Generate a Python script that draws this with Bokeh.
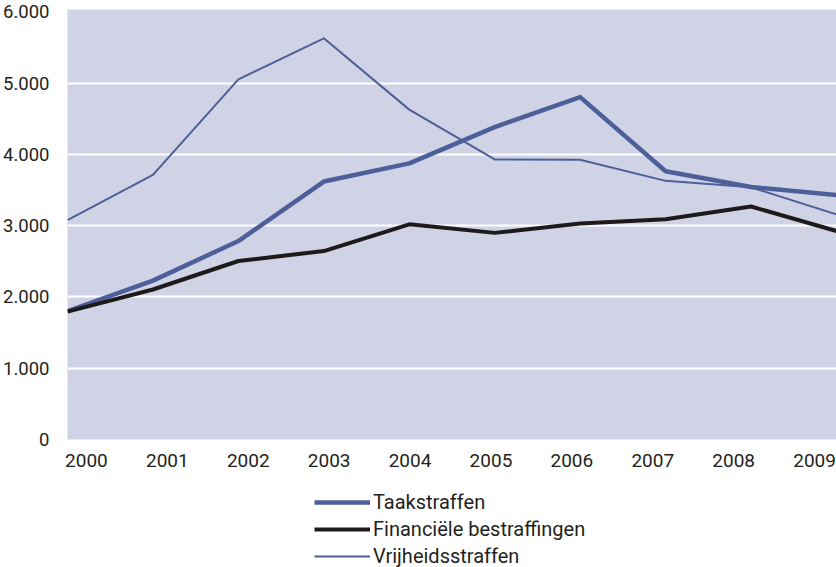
from bokeh.plotting import figure
from bokeh.layouts import column
from bokeh.models import Range1d, LinearAxis, FixedTicker, Legend, LegendItem
from bokeh.embed import file_html
from bokeh.resources import INLINE

years = [2000, 2001, 2002, 2003, 2004, 2005, 2006, 2007, 2008, 2009]
year_labels = ["2000", "2001", "2002", "2003", "2004", "2005", "2006", "2007", "2008", "2009"]
taakstraffen = [1800, 2230, 2785, 3620, 3875, 4385, 4805, 3765, 3545, 3430]
financiele = [1795, 2105, 2505, 2645, 3020, 2900, 3030, 3090, 3270, 2925]
vrijheid = [3080, 3715, 5055, 5630, 4630, 3930, 3925, 3630, 3540, 3160]
y_ticks = [0, 1000, 2000, 3000, 4000, 5000, 6000]
y_tick_labels = ["0", "1.000", "2.000", "3.000", "4.000", "5.000", "6.000"]
series_names = ["Taakstraffen", "Financiële bestraffingen", "Vrijheidsstraffen"]

BLUE = "#4D5F98"
BLACK = "#1E1A1A"
BG = "#CFD3E5"
TXT = "#231F20"
FONT = "Roboto"

styles = [dict(line_color=BLUE, line_width=4.5, line_join="round"),
          dict(line_color=BLACK, line_width=4, line_join="round"),
          dict(line_color=BLUE, line_width=2, line_join="round")]
series = [taakstraffen, financiele, vrijheid]

fig = figure(width=836, height=475, output_backend="svg", toolbar_location=None,
             x_range=Range1d(2000, 2009), y_range=Range1d(0, 6035),
             x_axis_location=None, min_border_left=64, min_border_right=0,
             min_border_top=9, min_border_bottom=36)
fig.background_fill_color = BG
fig.border_fill_color = "white"
fig.outline_line_color = None

# y axis
ya = fig.yaxis[0]
ya.ticker = FixedTicker(ticks=y_ticks)
ya.major_label_overrides = {t: l for t, l in zip(y_ticks, y_tick_labels)}
ya.axis_line_color = None
ya.major_tick_line_color = None
ya.minor_tick_line_color = None
ya.major_label_standoff = 12
ya.major_label_text_font = FONT
ya.major_label_text_font_size = "18.5px"
ya.major_label_text_color = TXT

fig.xgrid.visible = False
fig.ygrid.ticker = FixedTicker(ticks=y_ticks[1:-1])
fig.ygrid.grid_line_color = "white"
fig.ygrid.grid_line_width = 2

# x axis (category-style labels between the data points)
fig.extra_x_ranges = {"lab": Range1d(1999.766, 2009.271)}
xa = LinearAxis(x_range_name="lab", ticker=FixedTicker(ticks=years))
xa.major_label_overrides = {y: l for y, l in zip(years, year_labels)}
xa.axis_line_color = None
xa.major_tick_line_color = None
xa.minor_tick_line_color = None
xa.major_label_standoff = 8
xa.major_label_text_font = FONT
xa.major_label_text_font_size = "19px"
xa.major_label_text_color = TXT
fig.add_layout(xa, "below")

for ys, st in zip(series, styles):
    fig.line(years, ys, **st)

# legend figure (lines drawn out of view, only the legend is visible)
lf = figure(width=836, height=92, output_backend="svg", toolbar_location=None,
            x_range=Range1d(0, 1), y_range=Range1d(0, 1),
            x_axis_location=None, y_axis_location=None,
            min_border_left=0, min_border_right=0, min_border_top=0, min_border_bottom=0)
lf.background_fill_color = "white"
lf.border_fill_color = "white"
lf.outline_line_color = None
lf.grid.visible = False

items = []
for name, ys, st in zip(series_names, series, styles):
    r = lf.line(years, ys, **st)
    items.append(LegendItem(label=name, renderers=[r]))

legend = Legend(items=items, location=(247, -1), orientation="vertical",
                glyph_width=56, glyph_height=24, label_height=24,
                label_standoff=3, spacing=3, padding=0, margin=0,
                border_line_color=None, background_fill_alpha=0,
                label_text_font=FONT, label_text_font_size="20px",
                label_text_color=TXT)
lf.add_layout(legend, "center")

p = column(fig, lf, spacing=0)

open("out.html", "w").write(file_html(p, INLINE))
